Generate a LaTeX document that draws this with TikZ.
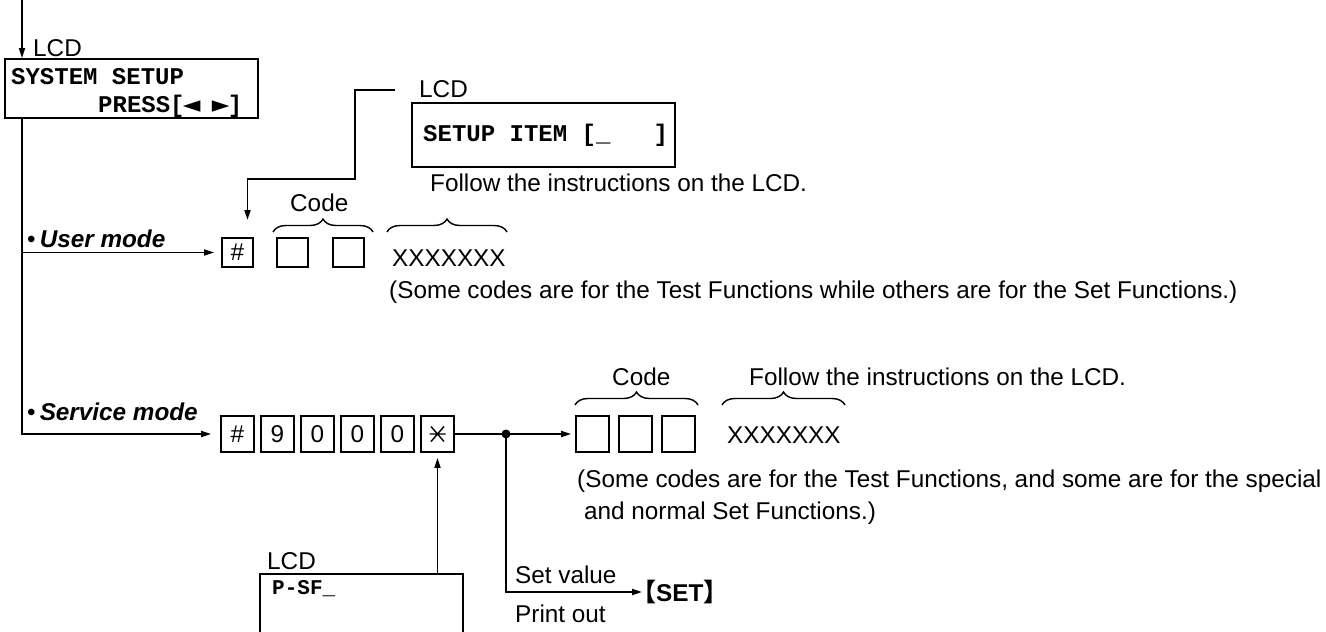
\documentclass[tikz,border=0pt]{standalone}
\usepackage{fontspec}
\usetikzlibrary{arrows.meta,decorations.pathreplacing,calc}
\newfontfamily\labf{Liberation Sans}
\newfontfamily\monof{Liberation Mono}
\newfontfamily\dvs{DejaVu Sans}
\newfontfamily\cjkf{Noto Sans CJK JP}
\newcommand\labfont{\labf\fontsize{24.3}{28}\selectfont}
\newcommand\lcdfont{\monof\bfseries\fontsize{24}{28}\selectfont}
\newcommand\tri[1]{\makebox[14.4pt]{\dvs\fontsize{23}{23}\selectfont #1}}
\begin{document}
\begin{tikzpicture}[x=1pt,y=-1pt,
  lbl/.style={font=\labfont, inner sep=0pt, anchor=base west},
  lcdt/.style={font=\lcdfont, inner sep=0pt, anchor=base west},
  lcdbox/.style={draw, line width=1.8pt, inner sep=0pt},
  skey/.style={draw, line width=1.8pt, minimum width=33pt, minimum height=36pt, inner sep=0pt, font=\labfont},
  ukey/.style={skey, minimum width=31pt, minimum height=29pt},
  conn/.style={line width=1.8pt},
  arr/.style={conn, -{Triangle[length=10pt,width=6pt]}},
  brc/.style={line width=1.4pt, decorate, decoration={brace, amplitude=13pt}},
]
\useasboundingbox (0,0) rectangle (1326,632);

% ---- top LCD box
\node[lcdbox, minimum width=253pt, minimum height=59pt] (sys) at (131.5,88.5) {};
\node[lbl] (lcd1) at (33,56) {LCD};
\node[lcdt] (t1) at (11,84) {SYSTEM SETUP};
\node[lcdt] (t2) at (98,112) {PRESS[\tri{◄}\ \tri{►}]};
\coordinate (top) at (22,0);

% ---- setup item box
\node[lcdbox, minimum width=263pt, minimum height=64pt] (item) at (543.5,135) {};
\node[lbl] (lcd2) at (419,97) {LCD};
\node[lcdt] (t3) at (423,141) {SETUP ITEM [\_\ \ \ ]};
\node[lbl] (f1) at (430,191) {Follow the instructions on the LCD.};
\coordinate (c1) at (395,90);

% ---- user mode row
\node[ukey] (u1) at (237.5,252.5) {\#};
\node[ukey] (u2) at (292.5,252.5) {};
\node[ukey] (u3) at (348.5,252.5) {};
\node[lbl] (um) at (27,247) {•\,\bfseries\itshape User mode};
\node[lbl] (code1) at (290,211) {Code};
\node[lbl] (x1) at (392,266) {XXXXXXX};
\node[lbl] (n1) at (389,298) {(Some codes are for the Test Functions while others are for the Set Functions.)};
\draw[brc] (273,232) -- (373,232);
\draw[brc] (387,232) -- (507,232);

% ---- service mode row
\node[skey] (s1) at (237.5,434) {\#};
\node[skey] (s2) at (277.5,434) {9};
\node[skey] (s3) at (317.5,434) {0};
\node[skey] (s4) at (357.5,434) {0};
\node[skey] (s5) at (397.5,434) {0};
\node[skey] (s6) at (437.5,434) {};
\draw[line width=1.4pt] ($(s6)+(-8,0)$) -- ($(s6)+(8,0)$)
  ($(s6)+(-6.5,-7.5)$) -- ($(s6)+(6.5,7.5)$)
  ($(s6)+(-6.5,7.5)$) -- ($(s6)+(6.5,-7.5)$);
\node[lbl] (sm) at (27,420) {•\,\bfseries\itshape Service mode};

\node[skey] (c1b) at (592.5,434) {};
\node[skey] (c2b) at (635.5,434) {};
\node[skey] (c3b) at (678.5,434) {};
\node[lbl] (code2) at (612,385) {Code};
\node[lbl] (f2) at (749,385) {Follow the instructions on the LCD.};
\node[lbl] (x2) at (727,443) {XXXXXXX};
\node[lbl] (n2) at (577,487) {(Some codes are for the Test Functions, and some are for the special};
\node[lbl] (n3) at (584,519) {and normal Set Functions.)};
\draw[brc] (575,405) -- (698,405);
\draw[brc] (722,405) -- (845,405);

\coordinate (dot) at (506,434);

% ---- bottom
\node[lcdbox, minimum width=203pt, minimum height=90pt] (psf) at (361.5,619) {};
\node[lbl] (lcd3) at (267,569) {LCD};
\node[lcdt, font=\monof\bfseries\fontsize{21}{24}\selectfont] (t4) at (272,594) {P-SF\_};
\node[lbl] (sv) at (515,583) {Set value};
\node[lbl] (po) at (515,622) {Print out};
\node[inner sep=0pt, anchor=west] (set) at (642,592) {{\cjkf\bfseries\fontsize{25}{25}\selectfont\hspace{-11pt}【}{\labfont\bfseries SET}{\cjkf\bfseries\fontsize{25}{25}\selectfont 】}};

% ---- connectors
\draw[arr] (top) -- (top |- sys.north);
\draw[arr, shorten >=9pt] (top |- sys.south) |- (s1.west);
\draw[arr, shorten >=7pt] (top |- u1.west) -- (u1.west);
\draw[arr] (c1) -- (355,90) -- (355,179) -- (247.5,179) -- (247.5,220);
\draw[conn] (s6.east) -- (dot);
\draw[arr, shorten >=4pt] (dot) -- (c1b.west);
\draw[arr] (dot) |- (set.west);
\draw[arr, shorten >=5pt] (psf.north -| s6) -- (s6.south);
\fill (dot) circle (4.5pt);
\end{tikzpicture}
\end{document}
